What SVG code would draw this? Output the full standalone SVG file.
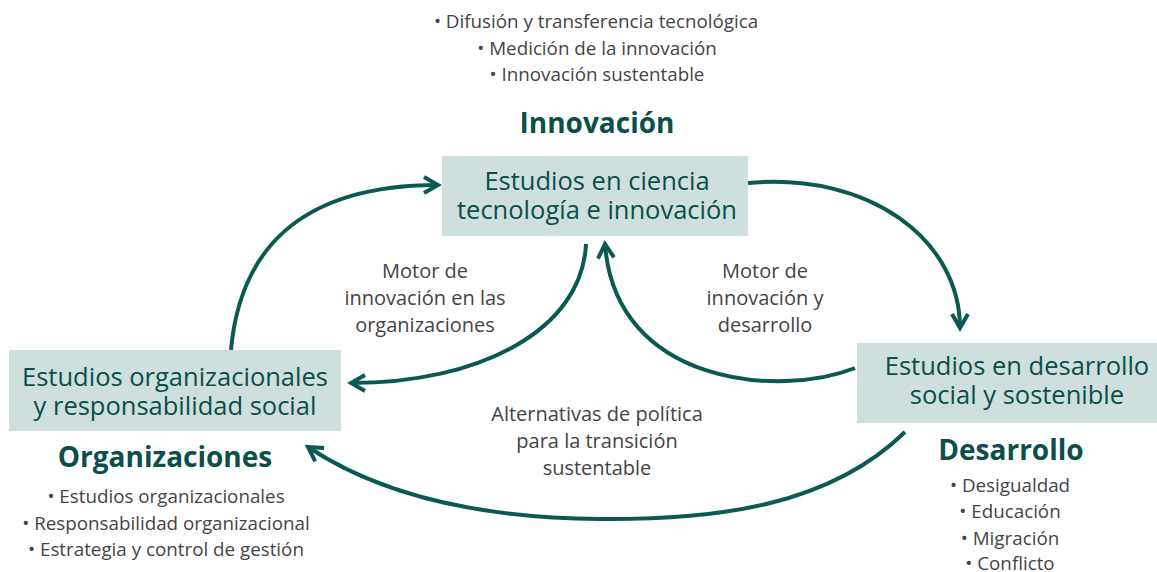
<svg xmlns="http://www.w3.org/2000/svg" width="1157" height="572" viewBox="0 0 1157 572">
<style>
.box{fill:#cfdfde}
.bt{font-family:"Open Sans","Noto Sans",sans-serif;font-size:25.5px;fill:#0b4f4a;text-anchor:middle}
.hd{font-family:"Open Sans","Noto Sans",sans-serif;font-size:28px;font-weight:bold;fill:#0b4f4a;text-anchor:middle}
.lt{font-family:"Open Sans","Noto Sans",sans-serif;font-size:18.8px;fill:#444;text-anchor:middle}
.lb{font-family:"Open Sans","Noto Sans",sans-serif;font-size:20px;fill:#444;text-anchor:middle}
.con{fill:none;stroke:#0b5a52;stroke-width:4;marker-end:url(#ah)}
</style>
<defs>
<marker id="ah" viewBox="0 0 10 10" refX="8" refY="5" markerWidth="5" markerHeight="5" orient="auto" markerUnits="strokeWidth">
<path d="M1,1 L8,5 L1,9" fill="none" stroke="#0b5a52" stroke-width="2"/>
</marker>
</defs>
<g id="connectors">
<path class="con" d="M231,350 C240,250 300,185 438,185"/>
<path class="con" d="M748,183 C870,172 960,240 960,328"/>
<path class="con" d="M586,244 C582,330 480,383 351,383"/>
<path class="con" d="M855,368 C780,398 615,385 605,244"/>
<path class="con" d="M905,432 C830,505 720,520 600,519 C480,518 380,495 308,447"/>
</g>
<g id="innovacion">
<text class="lt" x="596" y="28">• Difusión y transferencia tecnológica</text>
<text class="lt" x="597" y="55">• Medición de la innovación</text>
<text class="lt" x="597" y="81">• Innovación sustentable</text>
<text class="hd" x="597" y="133">Innovación</text>
</g>
<g id="node-cti">
<rect class="box" x="442" y="156" width="306" height="80"/>
<text class="bt" x="597" y="190">Estudios en ciencia</text>
<text class="bt" x="597" y="219">tecnología e innovación</text>
</g>
<g id="node-org">
<rect class="box" x="9" y="350" width="332" height="81"/>
<text class="bt" x="175" y="386">Estudios organizacionales</text>
<text class="bt" x="175" y="415">y responsabilidad social</text>
<text class="hd" x="165" y="467">Organizaciones</text>
<text class="lt" x="166" y="503">• Estudios organizacionales</text>
<text class="lt" x="166" y="530">• Responsabilidad organizacional</text>
<text class="lt" x="166" y="556">• Estrategia y control de gestión</text>
</g>
<g id="node-des">
<rect class="box" x="857" y="343" width="300" height="80"/>
<text class="bt" x="1017" y="375">Estudios en desarrollo</text>
<text class="bt" x="1017" y="404">social y sostenible</text>
<text class="hd" x="1011" y="460">Desarrollo</text>
<text class="lt" x="1010" y="492">• Desigualdad</text>
<text class="lt" x="1010" y="518">• Educación</text>
<text class="lt" x="1010" y="545">• Migración</text>
<text class="lt" x="1010" y="570">• Conflicto</text>
</g>
<g id="labels">
<text class="lb" x="425" y="278">Motor de</text>
<text class="lb" x="425" y="305">innovación en las</text>
<text class="lb" x="425" y="332">organizaciones</text>
<text class="lb" x="765" y="278">Motor de</text>
<text class="lb" x="765" y="305">innovación y</text>
<text class="lb" x="765" y="332">desarrollo</text>
<text class="lb" x="597" y="421">Alternativas de política</text>
<text class="lb" x="597" y="448">para la transición</text>
<text class="lb" x="597" y="475">sustentable</text>
</g>
</svg>
